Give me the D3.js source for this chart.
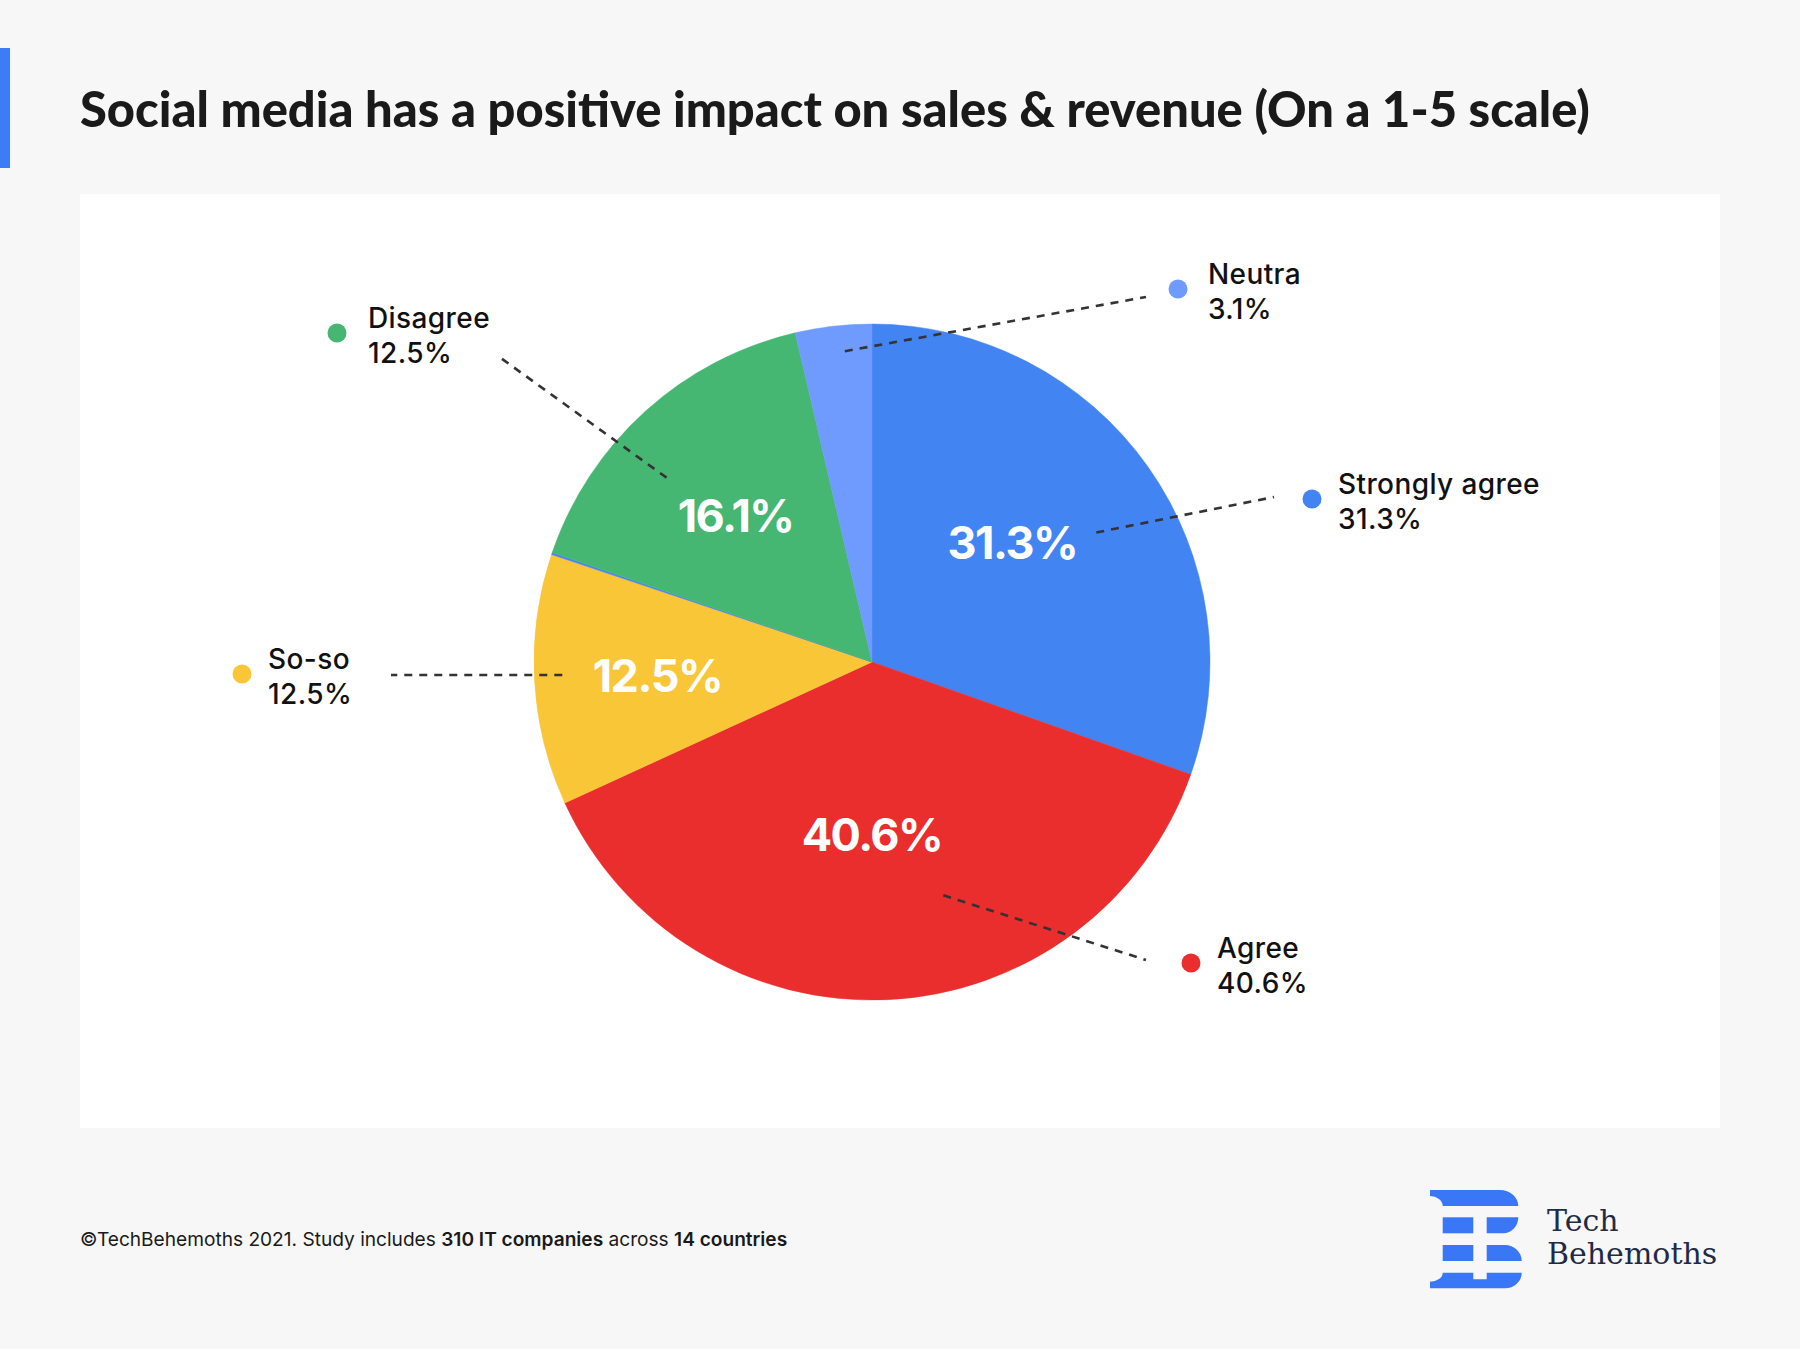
<!DOCTYPE html>
<html>
<head>
<meta charset="utf-8">
<script src="https://cdn.jsdelivr.net/npm/d3@7"></script>
<style>
  html, body { margin: 0; padding: 0; background: #f7f7f7; }
  svg { display: block; }
</style>
</head>
<body>
<svg id="chart" width="1800" height="1349"></svg>
<script>
// ---------------- DATA ----------------
const categories   = ["Strongly agree", "Agree", "So-so", "Strongly disagree", "Disagree", "Neutra"];
const sliceShares  = [30.4, 37.75, 12.0, 0.1, 16.1, 3.65];       // slice sizes as drawn
const innerLabels  = ["31.3%", "40.6%", "12.5%", "", "16.1%", ""];
const calloutNames = ["Strongly agree", "Agree", "So-so", "", "Disagree", "Neutra"];
const calloutPcts  = ["31.3%", "40.6%", "12.5%", "", "12.5%", "3.1%"];
const sliceColors  = ["#4384f3", "#ea2e2e", "#f9c638", "#4384f3", "#46b772", "#6e9bfd"];

const titleText = "Social media has a positive impact on sales & revenue (On a 1-5 scale)";

// ---------------- LAYOUT ----------------
const W = 1800, H = 1349;
const cx = 872, cy = 662, R = 338;

// inner label polar positions (deg clockwise from top, radius)
const innerPos = { "Strongly agree": [49.7, 184], "Agree": [180, 173], "So-so": [266.3, 215], "Disagree": [317, 200] };
// callout layout
const callouts = {
  "Neutra":         { dot: [1178, 289], inner: [355, 312],   outer: [1146, 297], tx: 30 },
  "Disagree":       { dot: [337, 333],  inner: [311.9, 276], outer: [498, 356],  tx: 31 },
  "Strongly agree": { dot: [1312, 499], inner: [60, 259],    outer: [1274, 497], tx: 26 },
  "So-so":          { dot: [242, 674],  inner: [267.6, 310], outer: [391, 675],  tx: 26 },
  "Agree":          { dot: [1191, 963], inner: [163, 244],   outer: [1146, 960], tx: 26 }
};

const svg = d3.select("#chart");
svg.append("rect").attr("width", W).attr("height", H).attr("fill", "#f7f7f7");

// left accent bar
svg.append("rect").attr("x", 0).attr("y", 48).attr("width", 10).attr("height", 120).attr("fill", "#3d7cf7");

function fitWidth(sel, base, target, lo, hi) {
  const w = sel.node().getComputedTextLength();
  if (w > 0) sel.attr("font-size", Math.max(lo, Math.min(hi, base * target / w)).toFixed(2));
}

// title
const title = svg.append("text")
  .attr("x", 80).attr("y", 127)
  .attr("font-family", "Lato, Inter, sans-serif")
  .attr("font-weight", 900)
  .attr("font-size", 46)
  .attr("fill", "#1a1a1a")
  .text(titleText);
fitWidth(title, 46, 1510, 40, 52);

// white card
svg.append("rect").attr("x", 80).attr("y", 194).attr("width", 1640).attr("height", 934).attr("fill", "#ffffff");

// pie
const pie = d3.pie().sort(null).value(d => d.v).startAngle(0).endAngle(2 * Math.PI);
const data = categories.map((c, i) => ({ c, v: sliceShares[i], col: sliceColors[i], lab: innerLabels[i] }));
const arcs = pie(data);
const arc = d3.arc().innerRadius(0).outerRadius(R);

const g = svg.append("g").attr("transform", `translate(${cx},${cy})`);
g.selectAll("path.slice").data(arcs).join("path")
  .attr("class", "slice")
  .attr("d", arc)
  .attr("fill", d => d.data.col)
  .attr("stroke", d => d.data.col)
  .attr("stroke-width", 0.5);

function polar(deg, r) {
  const a = deg * Math.PI / 180;
  return [cx + r * Math.sin(a), cy - r * Math.cos(a)];
}

// leader lines
Object.entries(callouts).forEach(([name, c]) => {
  const p = polar(c.inner[0], c.inner[1]);
  svg.append("line")
    .attr("x1", p[0]).attr("y1", p[1])
    .attr("x2", c.outer[0]).attr("y2", c.outer[1])
    .attr("stroke", "#333333").attr("stroke-width", 2.6)
    .attr("stroke-dasharray", "8,7");
});

// inner labels
arcs.forEach(d => {
  if (!d.data.lab) return;
  const pp = innerPos[d.data.c];
  const p = pp ? polar(pp[0], pp[1]) : (() => { const q = d3.arc().innerRadius(R * 0.57).outerRadius(R * 0.57).centroid(d); return [cx + q[0], cy + q[1]]; })();
  svg.append("text")
    .attr("x", p[0]).attr("y", p[1] + 16)
    .attr("text-anchor", "middle")
    .attr("font-family", "Inter, 'Open Sans', sans-serif")
    .attr("font-weight", 700)
    .attr("font-size", 45)
    .attr("letter-spacing", -1.5)
    .attr("fill", "#ffffff")
    .text(d.data.lab);
});

// callouts (dot + name + pct)
categories.forEach((c, i) => {
  const L = callouts[calloutNames[i]];
  if (!L) return;
  svg.append("circle").attr("cx", L.dot[0]).attr("cy", L.dot[1]).attr("r", 9.5).attr("fill", sliceColors[i]);
  const t = svg.append("text")
    .attr("font-family", "Inter, 'Open Sans', sans-serif")
    .attr("font-weight", 500)
    .attr("font-size", 28)
    .attr("letter-spacing", 0.4)
    .attr("fill", "#111111");
  t.append("tspan").attr("x", L.dot[0] + L.tx).attr("y", L.dot[1] - 5).text(calloutNames[i]);
  t.append("tspan").attr("x", L.dot[0] + L.tx).attr("y", L.dot[1] + 30).text(calloutPcts[i]);
});

// footer
const foot = svg.append("text")
  .attr("x", 80).attr("y", 1246)
  .attr("font-family", "Inter, 'Open Sans', sans-serif")
  .attr("font-size", 18)
  .attr("fill", "#1a1a1a");
foot.append("tspan").attr("font-weight", 400).text("©TechBehemoths 2021. Study includes ");
foot.append("tspan").attr("font-weight", 600).text("310 IT companies");
foot.append("tspan").attr("font-weight", 400).text(" across ");
foot.append("tspan").attr("font-weight", 600).text("14 countries");
fitWidth(foot, 18, 708, 16, 21);

// logo
const logoBlue = "#3a77f6";
const lg = svg.append("g").attr("fill", logoBlue);
lg.append("path").attr("d",
  "M1430,1190 L1500,1190 A18.3,16 0 0 1 1518.3,1206 L1442.7,1206 A12.7,10 0 0 0 1430,1196 Z");
lg.append("rect").attr("x", 1442.7).attr("y", 1217.3).attr("width", 30.6).attr("height", 16);
lg.append("path").attr("d",
  "M1486.7,1217.3 L1518.3,1217.3 A15,16 0 0 1 1503.3,1233.3 L1486.7,1233.3 Z");
lg.append("rect").attr("x", 1442.7).attr("y", 1245).attr("width", 30.6).attr("height", 16);
lg.append("path").attr("d",
  "M1486.7,1245 L1505,1245 A16.7,16 0 0 1 1521.7,1261 L1486.7,1261 Z");
lg.append("path").attr("d",
  "M1442.7,1272.7 L1473.3,1272.7 L1473.3,1279.3 L1486.7,1279.3 L1486.7,1272.7 L1521.7,1272.7 A16.7,15.6 0 0 1 1505,1288.3 L1430,1288.3 L1430,1281.7 A12.7,9 0 0 0 1442.7,1272.7 Z");

const lt = svg.append("text")
  .attr("font-family", "'DejaVu Serif', 'Liberation Serif', serif")
  .attr("font-size", 30)
  .attr("fill", "#1f2b46");
lt.append("tspan").attr("x", 1547).attr("y", 1231).text("Tech");
lt.append("tspan").attr("x", 1547).attr("y", 1264).text("Behemoths");
</script>
</body>
</html>
